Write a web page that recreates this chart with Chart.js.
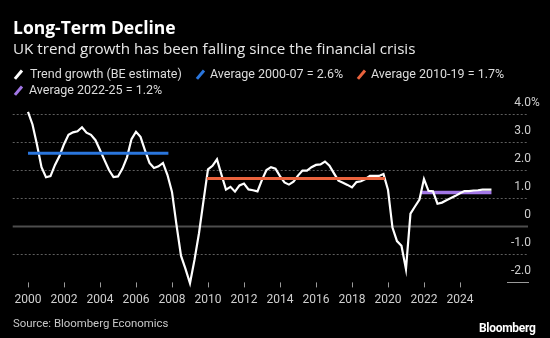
<!DOCTYPE html>
<html>
<head>
<meta charset="utf-8">
<script src="https://cdn.jsdelivr.net/npm/chart.js@4.4.1/dist/chart.umd.min.js"></script>
<style>
  html, body { margin: 0; padding: 0; background: #000; }
  #wrap { position: relative; width: 550px; height: 338px; overflow: hidden; font-family: Roboto, "Open Sans", sans-serif; color: #fff; }
  #chart { position: absolute; left: 0; top: 0; }
  .txt { position: absolute; white-space: nowrap; line-height: 1; }
  .title { left: 13px; top: 19px; font-family: "Open Sans", sans-serif; font-size: 17.5px; font-weight: 700; }
  .subtitle { left: 13px; top: 40.5px; font-family: "Open Sans", sans-serif; font-size: 15.2px; color: #e8e8e8; }
  .leg { font-size: 12.5px; color: #dcdcdc; }
  .swatch { position: absolute; width: 2.6px; height: 11px; transform: rotate(40deg); }
  .source { left: 13px; top: 317.5px; font-size: 11.4px; color: #c8c8c8; }
  .logo { left: 479px; top: 322px; font-size: 12px; font-weight: 700; letter-spacing: -0.3px; }
</style>
</head>
<body>
<div id="wrap">
  <canvas id="chart" width="550" height="338"></canvas>
  <div class="txt title">Long-Term Decline</div>
  <div class="txt subtitle">UK trend growth has been falling since the financial crisis</div>

  <span class="swatch" style="left:17px;top:69px;background:#ffffff"></span>
  <div class="txt leg" style="left:30px;top:68px">Trend growth (BE estimate)</div>
  <span class="swatch" style="left:199px;top:69px;background:#2a76dd"></span>
  <div class="txt leg" style="left:210px;top:68px">Average 2000-07 = 2.6%</div>
  <span class="swatch" style="left:360px;top:69px;background:#ea633d"></span>
  <div class="txt leg" style="left:371px;top:68px">Average 2010-19 = 1.7%</div>
  <span class="swatch" style="left:17px;top:85px;background:#a277e6"></span>
  <div class="txt leg" style="left:29px;top:84px">Average 2022-25 = 1.2%</div>

  <div class="txt source">Source: Bloomberg Economics</div>
  <div class="txt logo">Bloomberg</div>
</div>
<script>
// quarterly trend growth estimate, % (2000 Q1 onwards)
const startYear = 2000;
const trendGrowth = [
  4.07, 3.62, 2.90, 2.10,   // 2000
  1.74, 1.78, 2.18, 2.50,   // 2001
  2.92, 3.25, 3.34, 3.38,   // 2002
  3.52, 3.33, 3.25, 3.06,   // 2003
  2.71, 2.35, 2.00, 1.75,   // 2004
  1.77, 2.05, 2.45, 3.10,   // 2005
  3.36, 3.18, 2.70, 2.25,   // 2006
  2.07, 2.13, 2.25, 1.82,   // 2007
  1.22, 0.05, -1.05, -1.52, // 2008
  -2.03, -1.20, -0.25, 0.90, // 2009
  2.02, 2.15, 2.38, 1.83,   // 2010
  1.30, 1.40, 1.23, 1.45,   // 2011
  1.52, 1.31, 1.28, 1.24,   // 2012
  1.65, 2.00, 2.10, 2.05,   // 2013
  1.78, 1.56, 1.48, 1.58,   // 2014
  1.80, 1.98, 1.98, 2.10,   // 2015
  2.18, 2.20, 2.30, 2.15,   // 2016
  1.88, 1.62, 1.55, 1.47,   // 2017
  1.38, 1.57, 1.60, 1.68,   // 2018
  1.79, 1.79, 1.79, 1.86,   // 2019
  1.30, -0.05, -0.53, -0.70, // 2020
  -1.53, 0.45, 0.70, 0.95,  // 2021
  1.68, 1.26, 1.24, 0.80,   // 2022
  0.84, 0.92, 1.00, 1.08,   // 2023
  1.17, 1.25, 1.25, 1.27,   // 2024
  1.28, 1.30, 1.30, 1.30    // 2025
];

// period averages: [from, to] and level
const avg0007Span = [2000, 2007.8];
const avg0007Value = 2.6;
const avg1019Span = [2009.93, 2019.83];
const avg1019Value = 1.7;
const avg2225Span = [2021.87, 2025.75];
const avg2225Value = 1.2;

const yTicks = [4, 3, 2, 1, 0, -1, -2];
const yTickLabels = ["4.0%", "3.0", "2.0", "1.0", "0", "-1.0", "-2.0"];
const xTicks = [2000, 2002, 2004, 2006, 2008, 2010, 2012, 2014, 2016, 2018, 2020, 2022, 2024];

const trendPoints = trendGrowth.map((v, i) => ({ x: startYear + i / 4, y: v }));
const span = (s, v) => [{ x: s[0], y: v }, { x: s[1], y: v }];

// dotted grid, zero line, year ticks and right-hand labels (Bloomberg style)
const axesPlugin = {
  id: "bbgAxes",
  beforeDatasetsDraw(chart) {
    const { ctx, chartArea, scales } = chart;
    const xs = scales.x, ys = scales.y;
    ctx.save();
    yTicks.forEach((t) => {
      const y = Math.round(ys.getPixelForValue(t)) + 0.5;
      ctx.beginPath();
      if (t === 0) {
        ctx.setLineDash([]);
        ctx.strokeStyle = "#4d4d4d";
        ctx.lineWidth = 2;
        ctx.moveTo(chartArea.left, y);
        ctx.lineTo(chartArea.right, y);
      } else if (t === -2) {
        ctx.setLineDash([]);
        ctx.strokeStyle = "#9a9a9a";
        ctx.lineWidth = 1;
        ctx.moveTo(chartArea.right - 21, y);
        ctx.lineTo(chartArea.right + 1, y);
      } else {
        ctx.setLineDash([2, 2]);
        ctx.strokeStyle = "#5e5e5e";
        ctx.lineWidth = 1;
        ctx.moveTo(chartArea.left, y);
        ctx.lineTo(chartArea.right, y);
      }
      ctx.stroke();
    });
    ctx.setLineDash([]);
    ctx.strokeStyle = "#9a9a9a";
    ctx.lineWidth = 1;
    xTicks.forEach((t) => {
      const x = Math.round(xs.getPixelForValue(t)) + 0.5;
      ctx.beginPath();
      ctx.moveTo(x, chartArea.bottom);
      ctx.lineTo(x, chartArea.bottom + 5);
      ctx.stroke();
    });
    ctx.restore();
  },
  afterDraw(chart) {
    const { ctx, chartArea, scales } = chart;
    ctx.save();
    ctx.fillStyle = "#cfcfcf";
    ctx.font = "12px Roboto, sans-serif";
    ctx.textBaseline = "middle";
    ctx.textAlign = "center";
    xTicks.forEach((t) => {
      ctx.fillText(String(t), scales.x.getPixelForValue(t), chartArea.bottom + 18);
    });
    const lx = chartArea.right + 3;
    yTicks.forEach((t, i) => {
      const y = scales.y.getPixelForValue(t) - 11;
      let label = yTickLabels[i];
      if (label.endsWith("%")) {
        ctx.textAlign = "left";
        ctx.fillText("%", lx, y);
        label = label.slice(0, -1);
      }
      ctx.textAlign = "right";
      ctx.fillText(label, lx, y);
    });
    ctx.restore();
  }
};

const lineDs = (label, data, color, width) => ({
  label, data,
  borderColor: color,
  borderWidth: width,
  pointRadius: 0,
  tension: 0,
  clip: false,
  fill: false
});

new Chart(document.getElementById("chart"), {
  type: "line",
  data: {
    datasets: [
      lineDs("Average 2000-07 = 2.6%", span(avg0007Span, avg0007Value), "#2a76dd", 3),
      lineDs("Average 2010-19 = 1.7%", span(avg1019Span, avg1019Value), "#ea633d", 3),
      lineDs("Trend growth (BE estimate)", trendPoints, "#ffffff", 2.2),
      lineDs("Average 2022-25 = 1.2%", span(avg2225Span, avg2225Value), "#a277e6", 3.5)
    ]
  },
  options: {
    responsive: false,
    animation: false,
    devicePixelRatio: 1,
    layout: { padding: { left: 12.7, right: 22, top: 113.8, bottom: 55.6 } },
    scales: {
      x: { type: "linear", min: 1999.15, max: 2027.78, display: false },
      y: { type: "linear", min: -2, max: 4, display: false }
    },
    plugins: { legend: { display: false }, tooltip: { enabled: false } }
  },
  plugins: [axesPlugin]
});
</script>
</body>
</html>
